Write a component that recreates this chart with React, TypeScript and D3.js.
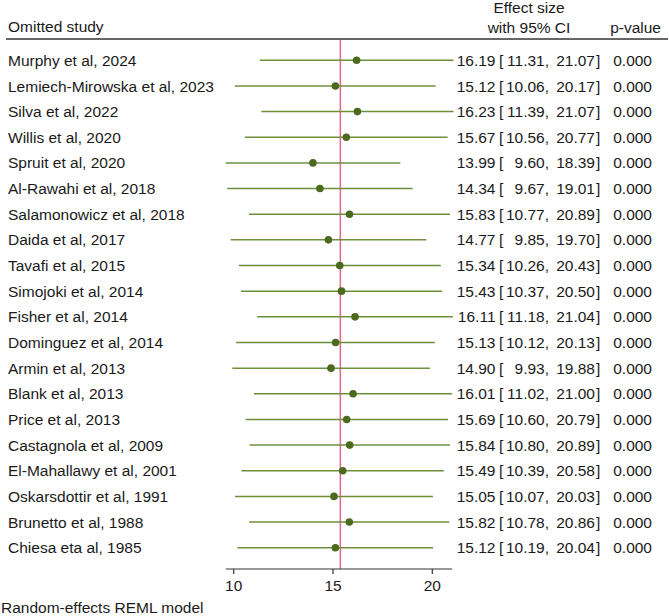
import React from "react";
import * as d3 from "d3";

// Leave-one-out meta-analysis: each row omits one study
const studies = [
  "Murphy et al, 2024",
  "Lemiech-Mirowska et al, 2023",
  "Silva et al, 2022",
  "Willis et al, 2020",
  "Spruit et al, 2020",
  "Al-Rawahi et al, 2018",
  "Salamonowicz et al, 2018",
  "Daida et al, 2017",
  "Tavafi et al, 2015",
  "Simojoki et al, 2014",
  "Fisher et al, 2014",
  "Dominguez et al, 2014",
  "Armin et al, 2013",
  "Blank et al, 2013",
  "Price et al, 2013",
  "Castagnola et al, 2009",
  "El-Mahallawy et al, 2001",
  "Oskarsdottir et al, 1991",
  "Brunetto et al, 1988",
  "Chiesa eta al, 1985",
];
const estimates = [16.19, 15.12, 16.23, 15.67, 13.99, 14.34, 15.83, 14.77, 15.34, 15.43, 16.11, 15.13, 14.9, 16.01, 15.69, 15.84, 15.49, 15.05, 15.82, 15.12];
const lowerCI = [11.31, 10.06, 11.39, 10.56, 9.6, 9.67, 10.77, 9.85, 10.26, 10.37, 11.18, 10.12, 9.93, 11.02, 10.6, 10.8, 10.39, 10.07, 10.78, 10.19];
const upperCI = [21.07, 20.17, 21.07, 20.77, 18.39, 19.01, 20.89, 19.7, 20.43, 20.5, 21.04, 20.13, 19.88, 21.0, 20.79, 20.89, 20.58, 20.03, 20.86, 20.04];
const pValues = [0, 0, 0, 0, 0, 0, 0, 0, 0, 0, 0, 0, 0, 0, 0, 0, 0, 0, 0, 0];
const overallEstimate = 15.37;
const axisTicks = [10, 15, 20];
const axisDomain = [9.6, 21.0];

const W = 669;
const H = 616;
const FONT = "'Liberation Sans', Arial, sans-serif";
const TEXT = "#1a1a1a";
const LINE_GREEN = "#6f8f3f";
const DOT_GREEN = "#4b6a1e";
const REF_RED = "#e0678c";

export default function App() {
  const x = d3.scaleLinear().domain([10, 20]).range([233.7, 432.3]);
  const y = d3
    .scalePoint<number>()
    .domain(d3.range(studies.length))
    .range([60.3, 547.7]);
  const axisY = 569;
  const f2 = d3.format(".2f");
  const f3 = d3.format(".3f");

  return (
    <svg
      width={W}
      height={H}
      style={{ position: "absolute", left: 0, top: 0, background: "#fff" }}
      fontFamily={FONT}
      fontSize={15.5}
      fill={TEXT}
    >
      {/* header */}
      <text x={8} y={32}>Omitted study</text>
      <text x={529} y={12.5} textAnchor="middle">Effect size</text>
      <text x={529} y={33} textAnchor="middle">with 95% CI</text>
      <text x={661} y={33} textAnchor="end">p-value</text>
      <line x1={6} x2={668} y1={39} y2={39} stroke="#333" strokeWidth={1.4} />

      {/* overall estimate reference line */}
      <line
        x1={x(overallEstimate)}
        x2={x(overallEstimate)}
        y1={40}
        y2={axisY}
        stroke={REF_RED}
        strokeWidth={1.5}
      />

      {studies.map((s, i) => {
        const cy = y(i) as number;
        return (
          <g key={s}>
            <text x={8} y={cy} dy="0.36em">{s}</text>
            <line
              x1={x(lowerCI[i])}
              x2={x(upperCI[i])}
              y1={cy}
              y2={cy}
              stroke={LINE_GREEN}
              strokeWidth={1.5}
            />
            <circle cx={x(estimates[i])} cy={cy} r={3.8} fill={DOT_GREEN} />
            <text x={495.5} y={cy} dy="0.36em" textAnchor="end">{f2(estimates[i])}</text>
            <text x={499} y={cy} dy="0.36em">[</text>
            <text x={549} y={cy} dy="0.36em" textAnchor="end">{f2(lowerCI[i]) + ","}</text>
            <text x={595} y={cy} dy="0.36em" textAnchor="end">{f2(upperCI[i])}</text>
            <text x={596} y={cy} dy="0.36em">]</text>
            <text x={652} y={cy} dy="0.36em" textAnchor="end">{f3(pValues[i])}</text>
          </g>
        );
      })}

      {/* x axis */}
      <line
        x1={x(axisDomain[0])}
        x2={x(axisDomain[1])}
        y1={axisY}
        y2={axisY}
        stroke="#333"
        strokeWidth={1.2}
      />
      {axisTicks.map((t) => (
        <g key={t}>
          <line x1={x(t)} x2={x(t)} y1={axisY} y2={axisY + 5} stroke="#333" strokeWidth={1.2} />
          <text x={x(t)} y={591} textAnchor="middle">{t}</text>
        </g>
      ))}

      <text x={1} y={613}>Random-effects REML model</text>
    </svg>
  );
}
